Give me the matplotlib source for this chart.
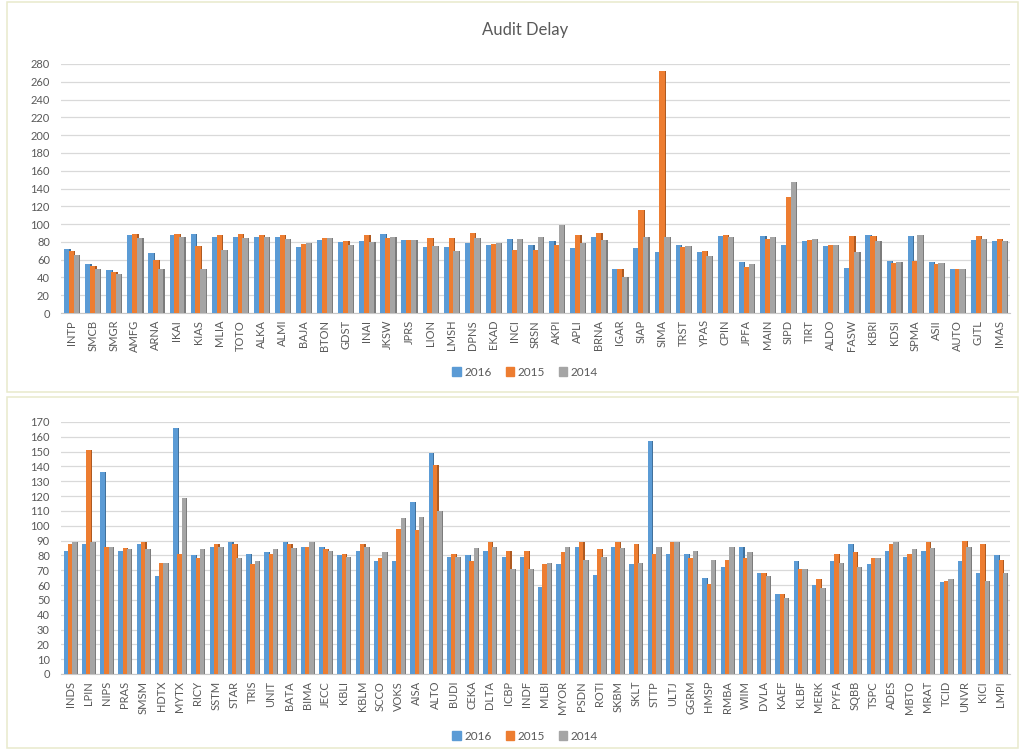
import matplotlib
matplotlib.use("Agg")
import matplotlib.pyplot as plt
import numpy as np
from matplotlib.patches import Rectangle, Patch

plt.rcParams['font.family'] = ['Lato', 'DejaVu Sans']

# upper group of companies
codes_a = ['INTP', 'SMCB', 'SMGR', 'AMFG', 'ARNA', 'IKAI', 'KIAS', 'MLIA', 'TOTO', 'ALKA',
           'ALMI', 'BAJA', 'BTON', 'GDST', 'INAI', 'JKSW', 'JPRS', 'LION', 'LMSH', 'DPNS',
           'EKAD', 'INCI', 'SRSN', 'AKPI', 'APLI', 'BRNA', 'IGAR', 'SIAP', 'SIMA', 'TRST',
           'YPAS', 'CPIN', 'JPFA', 'MAIN', 'SIPD', 'TIRT', 'ALDO', 'FASW', 'KBRI', 'KDSI',
           'SPMA', 'ASII', 'AUTO', 'GJTL', 'IMAS']
a_2016 = [72, 55, 48, 88, 67, 88, 89, 86, 86, 86, 86, 74, 82, 80, 81, 89, 82, 74, 74, 79,
          76, 83, 76, 81, 73, 86, 49, 73, 69, 76, 69, 87, 57, 87, 76, 81, 75, 51, 88, 58,
          87, 57, 50, 82, 81]
a_2015 = [70, 53, 46, 89, 60, 89, 75, 88, 89, 88, 88, 78, 84, 81, 88, 84, 82, 84, 84, 90,
          78, 71, 71, 77, 88, 90, 49, 116, 272, 74, 70, 88, 52, 83, 130, 82, 77, 87, 87, 56,
          58, 55, 50, 87, 83]
a_2014 = [65, 49, 44, 84, 49, 85, 49, 71, 84, 86, 83, 79, 84, 76, 80, 86, 82, 75, 70, 84,
          79, 83, 86, 99, 79, 82, 40, 86, 85, 75, 64, 85, 55, 85, 147, 83, 77, 69, 81, 57,
          88, 56, 50, 83, 81]

# lower group of companies
codes_b = ['INDS', 'LPIN', 'NIPS', 'PRAS', 'SMSM', 'HDTX', 'MYTX', 'RICY', 'SSTM', 'STAR',
           'TRIS', 'UNIT', 'BATA', 'BIMA', 'JECC', 'KBLI', 'KBLM', 'SCCO', 'VOKS', 'AISA',
           'ALTO', 'BUDI', 'CEKA', 'DLTA', 'ICBP', 'INDF', 'MLBI', 'MYOR', 'PSDN', 'ROTI',
           'SKBM', 'SKLT', 'STTP', 'ULTJ', 'GGRM', 'HMSP', 'RMBA', 'WIIM', 'DVLA', 'KAEF',
           'KLBF', 'MERK', 'PYFA', 'SQBB', 'TSPC', 'ADES', 'MBTO', 'MRAT', 'TCID', 'UNVR',
           'KICI', 'LMPI']
b_2016 = [83, 88, 136, 83, 88, 66, 166, 80, 86, 89, 81, 82, 89, 86, 86, 80, 83, 76, 76, 116,
          149, 79, 80, 83, 79, 79, 59, 74, 86, 67, 86, 74, 157, 81, 81, 65, 72, 86, 68, 54,
          76, 60, 76, 88, 74, 83, 79, 83, 62, 76, 68, 80]
b_2015 = [88, 151, 86, 85, 89, 75, 81, 78, 88, 88, 74, 81, 88, 86, 84, 81, 88, 78, 98, 97,
          141, 81, 76, 89, 83, 83, 74, 82, 89, 84, 89, 88, 81, 89, 78, 61, 77, 78, 68, 54,
          71, 64, 81, 82, 78, 88, 81, 89, 63, 90, 88, 77]
b_2014 = [89, 89, 86, 84, 84, 75, 119, 84, 86, 78, 76, 84, 85, 89, 83, 79, 86, 82, 105, 106,
          110, 79, 85, 86, 71, 71, 75, 86, 77, 79, 85, 75, 86, 89, 83, 77, 86, 82, 66, 51,
          71, 58, 75, 72, 78, 89, 84, 85, 64, 86, 63, 68]

years = ['2016', '2015', '2014']
colors = ['#5B9BD5', '#ED7D31', '#A5A5A5']
sides = ['#41719C', '#AE5A21', '#7C7C7C']
text_col = '#595959'

fig = plt.figure(figsize=(10.26, 7.5), dpi=100)

# light panel frames
for y0, h in [(1 - 392 / 750, 390 / 750), (2 / 750, 351 / 750)]:
    fig.patches.append(Rectangle((7 / 1026, y0), 1011 / 1026, h, transform=fig.transFigure,
                                 fill=False, edgecolor='#e8eacc', linewidth=1.1))


def draw_panel(ax, codes, series, ymax, step):
    x = np.arange(len(codes))
    w = 0.25
    offs = [-0.23, 0.0, 0.23]
    for k, vals in enumerate(series):
        # darker side face behind each column gives the 3-D look
        ax.bar(x + offs[k] + 0.06, vals, width=w, color=sides[k], zorder=2 + 2 * k)
        ax.bar(x + offs[k], vals, width=w, color=colors[k], zorder=3 + 2 * k)
    ax.set_xlim(-0.5, len(codes) - 0.5)
    ax.set_ylim(0, ymax)
    ax.set_yticks(np.arange(0, ymax + 1, step))
    ax.set_xticks(x)
    ax.set_xticklabels(codes, rotation=90)
    ax.tick_params(length=0, labelsize=8, colors=text_col)
    ax.tick_params(axis='y', pad=8)
    ax.tick_params(axis='x', pad=5)
    ax.grid(axis='y', color='#d9d9d9', linewidth=0.9, zorder=0)
    ax.set_axisbelow(True)
    for s in ['top', 'right', 'left']:
        ax.spines[s].set_visible(False)
    ax.spines['bottom'].set_color('#c8c8c8')


ax1 = fig.add_axes([61 / 1026, 1 - 313 / 750, 949 / 1026, 249 / 750])
draw_panel(ax1, codes_a, [a_2016, a_2015, a_2014], 280, 20)

ax2 = fig.add_axes([61 / 1026, 1 - 674 / 750, 949 / 1026, 252 / 750])
draw_panel(ax2, codes_b, [b_2016, b_2015, b_2014], 170, 10)

fig.text(0.512, 1 - 30 / 750, 'Audit Delay', ha='center', va='center',
         fontsize=12, color=text_col)

handles = [Patch(color=c, label=y) for c, y in zip(colors, years)]
for ypos in [1 - 372 / 750, 1 - 736 / 750]:
    fig.legend(handles=handles, loc='center', bbox_to_anchor=(0.512, ypos), ncol=3,
               frameon=False, fontsize=8.5, handlelength=0.7, handleheight=0.7,
               handletextpad=0.3, columnspacing=1.2, labelcolor=text_col)

fig.savefig('out.png', dpi=100)
